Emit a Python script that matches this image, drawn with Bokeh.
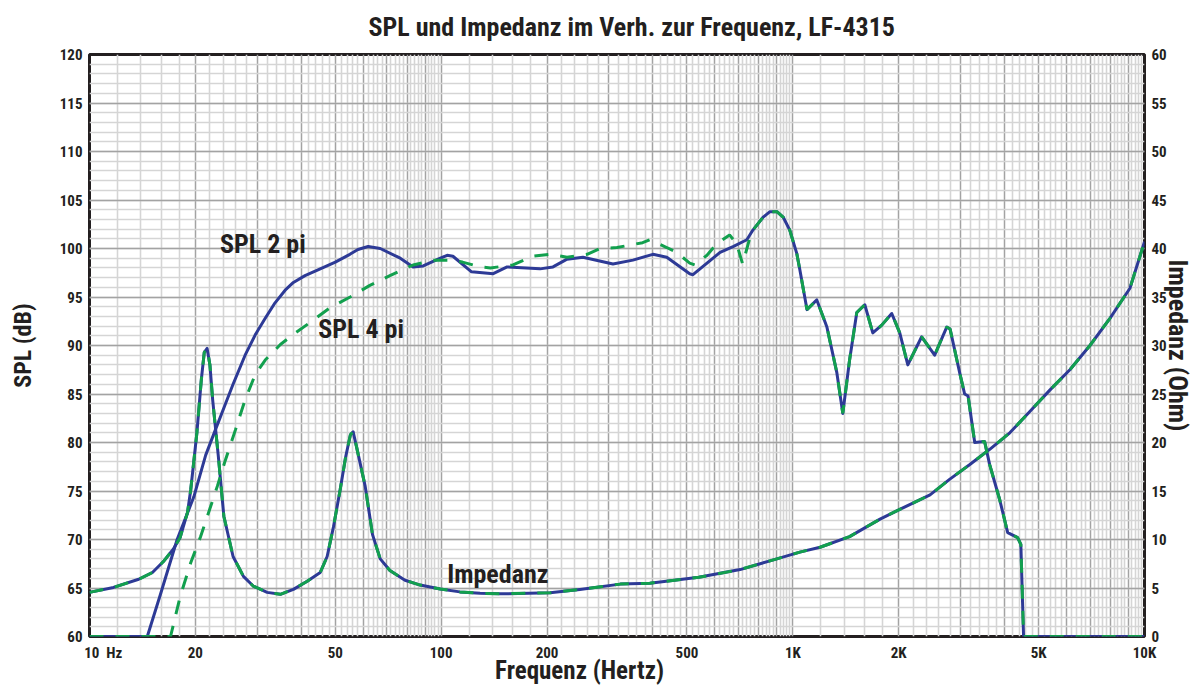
import math
from bokeh.plotting import figure
from bokeh.models import Range1d, LinearAxis, FixedTicker
from bokeh.core.properties import value
from bokeh.embed import file_html
from bokeh.resources import INLINE

FONT = "Liberation Sans Narrow, Roboto Condensed, Roboto"
TEXT_COLOR = "#231f20"
BLUE = "#2d3a96"
GREEN = "#12a04e"
NB = "\u00a0"

TITLE = "SPL und Impedanz im Verh. zur Frequenz, LF-4315"

# ---- data ----
freq_2pi_low = [10, 14.6, 15.9, 17.75, 19.8, 21.4, 22.8, 24.3, 25.6, 27.7, 29.6, 31.6, 33.7, 36,
                38, 41, 45.3, 50, 55, 58, 62, 67.1, 76.5, 83.2, 88.9, 98, 104, 108, 122, 140.6, 154,
                191, 208, 228, 253, 308, 351, 400, 438, 509, 520, 621, 676, 740, 770]
spl_2pi_low = [60, 60, 64.3, 70.0, 74.4, 78.7, 81.3, 83.9, 86.0, 89.0, 91.1, 92.8, 94.4, 95.7,
               96.5, 97.2, 97.9, 98.6, 99.4, 99.9, 100.2, 100.0, 99.0, 98.1, 98.2, 98.9, 99.3, 99.2,
               97.6, 97.4, 98.1, 97.9, 98.1, 98.9, 99.1, 98.4, 98.8, 99.4, 99.1, 97.4, 97.3, 99.6,
               100.2, 100.9, 101.9]

freq_4pi_low = [10, 17, 18.1, 19.4, 20.7, 22.1, 23.1, 24.3, 26.0, 27.7, 29.6, 31.6, 34.9, 38.5,
                42.5, 48.3, 55.1, 62.7, 71.5, 83.2, 95, 108, 115, 129, 138, 160, 182, 204, 228,
                260, 283, 316, 374, 392, 438, 467, 509, 527, 570, 608, 661, 692, 720, 752, 770]
spl_4pi_low = [60, 60, 64.1, 67.6, 70.3, 73.4, 75.5, 78.1, 81.3, 84.4, 87.0, 88.5, 90.1, 91.3,
               92.4, 93.9, 95.0, 96.2, 97.2, 98.3, 98.8, 98.8, 98.6, 98.1, 98.0, 98.3, 99.2, 99.4, 99.1,
               99.4, 100.0, 100.1, 100.6, 100.9, 100.1, 99.6, 98.5, 98.3, 99.3, 100.5, 101.4, 100.5, 98.4,
               100.9, 101.9]

# above ~800 Hz both SPL curves coincide
freq_high = [822, 861, 901, 940, 980, 1026, 1047, 1097, 1170, 1250, 1334, 1387, 1450, 1520, 1602,
             1688, 1790, 1911, 2014, 2123, 2325, 2531, 2739, 2800, 2981, 3080, 3150, 3290, 3510,
             3630, 3875, 4083, 4357, 4450, 4530, 10000]
spl_high = [103.2, 103.8, 103.8, 103.2, 101.9, 99.5, 97.8, 93.7, 94.7, 91.9, 87.2, 83.0, 88.5, 93.4,
            94.2, 91.3, 92.1, 93.3, 91.3, 88.0, 90.9, 89.0, 91.9, 91.7, 87.2, 85.0, 84.8, 80.0, 80.1,
            77.7, 74.1, 70.7, 70.2, 69.5, 60, 60]

freq_imp = [10, 11.7, 13.8, 15.1, 16.2, 17.3, 18.1, 19.0, 19.4, 20.2, 20.8, 21.2, 21.6, 22.0, 22.4,
            23.3, 24.1, 25.6, 27.4, 29.2, 32, 34.9, 38, 41.6, 45.3, 47.4, 49.4, 51.6, 53.5, 55.2,
            56.2, 57.5, 60.8, 63.8, 67.1, 71.5, 78.9, 87.2, 99.4, 113, 129, 147, 204, 248, 323, 392,
            540, 708, 861, 1047, 1195, 1450, 1770, 2014, 2456, 2790, 3180, 3630, 4140, 4720, 5380,
            6135, 6995, 7975, 9090, 10000]
imp_ohm = [4.55, 5.06, 5.9, 6.6, 7.7, 9.0, 10.2, 12.8, 15.1, 21.0, 26.5, 29.3, 29.7, 28.0, 24.4,
           18.2, 12.4, 8.25, 6.2, 5.2, 4.55, 4.35, 4.86, 5.7, 6.6, 8.25, 11.3, 15.1, 18.5, 20.8,
           21.1, 19.5, 15.5, 10.5, 8.0, 6.8, 5.8, 5.3, 4.9, 4.6, 4.45, 4.4, 4.5, 4.85, 5.4, 5.5,
           6.1, 6.9, 7.8, 8.7, 9.2, 10.3, 12.1, 13.1, 14.6, 16.2, 17.7, 19.3, 21.0, 23.2, 25.4,
           27.5, 30.0, 32.8, 35.9, 40.7]

x_tick_values = [10, 20, 50, 100, 200, 500, 1000, 2000, 5000, 10000]
x_tick_labels = [NB * 8 + "10" + NB * 2 + "Hz", "20", "50", "100", "200", "500", "1K", "2K", "5K", "10K"]
spl_ticks = list(range(60, 121, 5))
ohm_ticks = list(range(0, 61, 5))

curve_labels = ["SPL 2 pi", "SPL 4 pi", "Impedanz"]
curve_label_x = [23.5, 44.7, 104]
curve_label_y = [100.5, 91.7, 66.4]

# ---- figure ----
p = figure(width=1195, height=687, x_axis_type="log",
           x_range=Range1d(10, 10000), y_range=Range1d(60, 120),
           output_backend="svg", toolbar_location=None,
           min_border_left=89, min_border_right=50, min_border_top=54, min_border_bottom=50,
           title=TITLE)
p.extra_y_ranges = {"ohm": Range1d(0, 60)}
p.background_fill_color = "white"
p.border_fill_color = "white"
p.outline_line_color = TEXT_COLOR
p.outline_line_width = 3

p.title.align = "left"
p.title.offset = 279
p.title.vertical_align = "top"
p.title.text_font = FONT
p.title.text_font_style = "bold"
p.title.text_font_size = "26px"
p.title.text_color = TEXT_COLOR
p.title.standoff = 21

# grid
major_x = [m * 10 ** d for d in (1, 2, 3) for m in range(1, 10)] + [10000]
minor_x = [v * 10 ** (d - 1) for d in (1, 2, 3) for v in range(12, 100, 2) if v % 10 != 0]
g = p.xgrid[0]
g.ticker = FixedTicker(ticks=major_x, minor_ticks=minor_x)
g.grid_line_color = "#a3a3a3"
g.grid_line_width = 1.5
g.minor_grid_line_color = "#d5d5d5"
g.minor_grid_line_width = 1.6

gy = p.ygrid[0]
gy.ticker = FixedTicker(ticks=spl_ticks, minor_ticks=list(range(60, 121, 1)))
gy.grid_line_color = "#a3a3a3"
gy.grid_line_width = 1.5
gy.minor_grid_line_color = "#d5d5d5"
gy.minor_grid_line_width = 1.6

# axes
xa = p.xaxis[0]
xa.ticker = FixedTicker(ticks=x_tick_values)
xa.major_label_overrides = {v: t for v, t in zip(x_tick_values, x_tick_labels)}
xa.axis_label = "Frequenz (Hertz)" + NB * 13
xa.axis_label_standoff = -9
xa.axis_label_text_font_size = "25px"

ya = p.yaxis[0]
ya.ticker = FixedTicker(ticks=spl_ticks)
ya.axis_label = "SPL (dB)"
ya.axis_label_standoff = 20
ya.axis_label_text_font_size = "24px"

ra = LinearAxis(y_range_name="ohm", ticker=FixedTicker(ticks=ohm_ticks))
ra.axis_label = "Impedanz (Ohm)"
ra.axis_label_standoff = -7
ra.axis_label_text_font_size = "26px"
p.add_layout(ra, "right")

for ax in (xa, ya, ra):
    ax.axis_line_color = None
    ax.major_tick_line_color = None
    ax.minor_tick_line_color = None
    ax.major_tick_out = 0
    ax.major_tick_in = 0
    ax.major_label_text_font = FONT
    ax.major_label_text_font_style = "bold"
    ax.major_label_text_font_size = "15px"
    ax.major_label_text_color = TEXT_COLOR
    ax.major_label_standoff = 7
    ax.axis_label_text_font = FONT
    ax.axis_label_text_font_style = "bold"
    ax.axis_label_text_color = TEXT_COLOR

# ---- curves ----
freq_4pi = freq_4pi_low + freq_high
spl_4pi = spl_4pi_low + spl_high
freq_2pi = freq_2pi_low + freq_high
spl_2pi = spl_2pi_low + spl_high

p.line(freq_imp, imp_ohm, y_range_name="ohm", line_color=BLUE, line_width=3, line_join="round")
p.line(freq_2pi, spl_2pi, line_color=BLUE, line_width=3, line_join="round")
p.line(freq_4pi, spl_4pi, line_color=GREEN, line_width=3, line_dash="14 12")
p.line(freq_imp, imp_ohm, y_range_name="ohm", line_color=GREEN, line_width=3, line_dash="14 12")

p.text(x=curve_label_x, y=curve_label_y, text=curve_labels,
       text_font=value(FONT), text_font_style="bold", text_font_size="26px",
       text_color=TEXT_COLOR, text_align="left", text_baseline="middle")

open("out.html", "w").write(file_html(p, INLINE))
